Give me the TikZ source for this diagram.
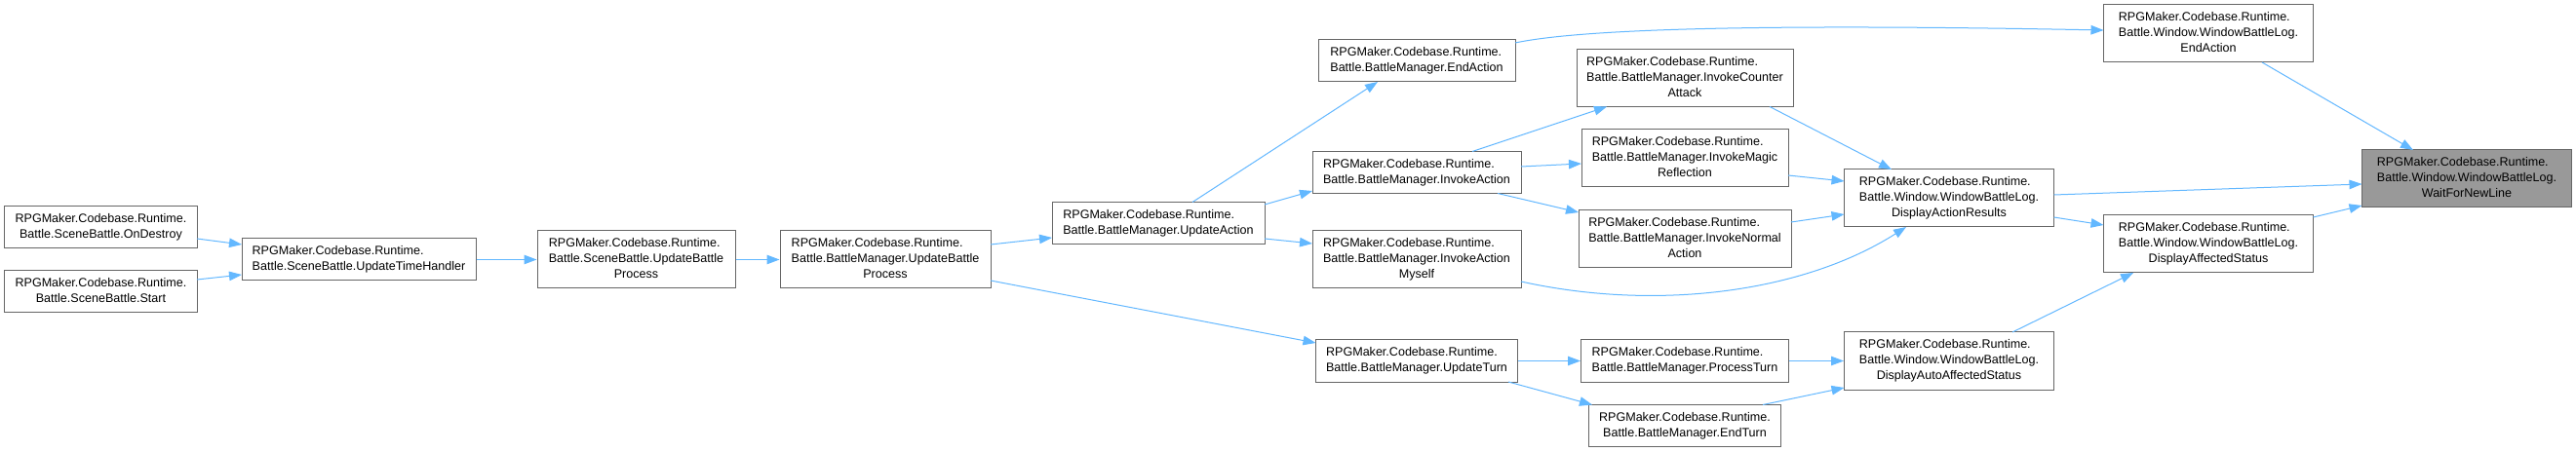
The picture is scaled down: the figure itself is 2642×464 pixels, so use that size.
\documentclass[tikz,border=0pt]{standalone}
\usepackage{fontspec}
\setmainfont{Liberation Sans}
\usetikzlibrary{arrows.meta,calc}
\definecolor{edgec}{HTML}{63B8FF}
\definecolor{boxc}{HTML}{666666}
\definecolor{rootc}{HTML}{999999}
\newcommand{\twol}[2]{\begin{tabular}{@{}l@{}}#1\\\multicolumn{1}{@{}c@{}}{#2}\end{tabular}}
\newcommand{\threel}[3]{\begin{tabular}{@{}l@{}}#1\\#2\\\multicolumn{1}{@{}c@{}}{#3}\end{tabular}}
\newcommand{\rpg}{RPGMaker.Codebase.Runtime.}
\begin{document}
\begin{tikzpicture}[x=1bp,y=-1bp,
  box/.style={draw=boxc, fill=white, line width=1bp, inner sep=0pt, minimum height=43bp, font=\fontsize{12.6}{16}\selectfont},
  boxiii/.style={box, minimum height=59bp},
  rootbox/.style={boxiii, fill=rootc},
  edge/.style={draw=edgec, line width=1bp, -{Triangle[length=13bp,width=9.5bp]}}]
\fill[white] (0,0) rectangle (2642,464);
\useasboundingbox (0,0) rectangle (2642,464);

\node[box, minimum width=197bp] (od) at (103.5,233) {\twol{\rpg}{Battle.SceneBattle.OnDestroy}};
\node[box, minimum width=197bp] (st) at (103.5,299.5) {\twol{\rpg}{Battle.SceneBattle.Start}};
\node[box, minimum width=240bp] (uth) at (368,266.5) {\twol{\rpg}{Battle.SceneBattle.UpdateTimeHandler}};
\node[boxiii, minimum width=203bp] (sbp) at (652.5,266.5) {\threel{\rpg}{Battle.SceneBattle.UpdateBattle}{Process}};
\node[boxiii, minimum width=216bp] (bbp) at (908,266.5) {\threel{\rpg}{Battle.BattleManager.UpdateBattle}{Process}};
\node[box, minimum width=218bp] (ua) at (1188,229) {\twol{\rpg}{Battle.BattleManager.UpdateAction}};
\node[box, minimum width=202bp] (ea) at (1453,62.5) {\twol{\rpg}{Battle.BattleManager.EndAction}};
\node[box, minimum width=214bp] (ia) at (1453,177) {\twol{\rpg}{Battle.BattleManager.InvokeAction}};
\node[boxiii, minimum width=214bp] (iam) at (1453,266.5) {\threel{\rpg}{Battle.BattleManager.InvokeAction}{Myself}};
\node[box, minimum width=207bp] (ut) at (1453,370.5) {\twol{\rpg}{Battle.BattleManager.UpdateTurn}};
\node[boxiii, minimum width=222bp] (ca) at (1728,80) {\threel{\rpg}{Battle.BattleManager.InvokeCounter}{Attack}};
\node[boxiii, minimum width=212bp] (mr) at (1728,162.5) {\threel{\rpg}{Battle.BattleManager.InvokeMagic}{Reflection}};
\node[boxiii, minimum width=218bp] (na) at (1728,245.5) {\threel{\rpg}{Battle.BattleManager.InvokeNormal}{Action}};
\node[box, minimum width=213bp] (pt) at (1728,370.5) {\twol{\rpg}{Battle.BattleManager.ProcessTurn}};
\node[box, minimum width=197bp] (et) at (1728,437) {\twol{\rpg}{Battle.BattleManager.EndTurn}};
\node[boxiii, minimum width=215bp] (dar) at (1999,203.5) {\threel{\rpg}{Battle.Window.WindowBattleLog.}{DisplayActionResults}};
\node[boxiii, minimum width=215bp] (daas) at (1999,370.5) {\threel{\rpg}{Battle.Window.WindowBattleLog.}{DisplayAutoAffectedStatus}};
\node[boxiii, minimum width=215bp] (wea) at (2265,34.5) {\threel{\rpg}{Battle.Window.WindowBattleLog.}{EndAction}};
\node[boxiii, minimum width=215bp] (das) at (2265,250.5) {\threel{\rpg}{Battle.Window.WindowBattleLog.}{DisplayAffectedStatus}};
\node[rootbox, minimum width=215bp] (wf) at (2530,183.5) {\threel{\rpg}{Battle.Window.WindowBattleLog.}{WaitForNewLine}};

\draw[edge] ($(od)+(98.5,12)$) -- ($(uth)+(-120,-15.5)$);
\draw[edge] ($(st)+(98.5,-12.5)$) -- ($(uth)+(-120,15.5)$);
\draw[edge] (uth.east) -- (sbp.west);
\draw[edge] (sbp.east) -- (bbp.west);
\draw[edge] ($(bbp)+(108,-15.5)$) -- ($(ua)+(-109,15)$);
\draw[edge] ($(bbp)+(108,21.5)$) -- ($(ut)+(-103.5,-18.5)$);
\draw[edge] ($(ua)+(35,-21.5)$) -- ($(ea)+(-40,21.5)$);
\draw[edge] ($(ua)+(109,-19)$) -- ($(ia)+(-107,19)$);
\draw[edge] ($(ua)+(109,16)$) -- ($(iam)+(-107,-16.5)$);
\draw[edge] ($(ea)+(101,-18.5)$) .. controls (1620,30) and (1800,24) .. ($(wea)+(-107.5,-3.5)$);
\draw[edge] ($(ia)+(57,-21.5)$) -- ($(ca)+(-80,29.5)$);
\draw[edge] ($(ia)+(107,-6)$) -- ($(mr)+(-106,5.5)$);
\draw[edge] ($(ia)+(83,21.5)$) -- ($(na)+(-109,-27.5)$);
\draw[edge] ($(iam)+(107,22.5)$) .. controls (1700,320) and (1850,300) .. ($(dar)+(-44,29.5)$);
\draw[edge] ($(ca)+(87,29.5)$) -- ($(dar)+(-59,-29.5)$);
\draw[edge] ($(mr)+(106,17.5)$) -- ($(dar)+(-107.5,-17.5)$);
\draw[edge] ($(na)+(109,-17.5)$) -- ($(dar)+(-107.5,16.5)$);
\draw[edge] ($(dar)+(107.5,-3.5)$) -- ($(wf)+(-107.5,5.5)$);
\draw[edge] ($(dar)+(107.5,19.5)$) -- ($(das)+(-107.5,-19.5)$);
\draw[edge] (ut.east) -- (pt.west);
\draw[edge] ($(ut)+(94,21.5)$) -- ($(et)+(-95,-21.5)$);
\draw[edge] (pt.east) -- (daas.west);
\draw[edge] ($(et)+(80,-21.5)$) -- ($(daas)+(-107.5,27.5)$);
\draw[edge] ($(daas)+(65,-29.5)$) -- ($(das)+(-77,29.5)$);
\draw[edge] ($(das)+(107.5,-27.5)$) -- ($(wf)+(-107.5,27.5)$);
\draw[edge] ($(wea)+(55,29.5)$) -- ($(wf)+(-55,-29.5)$);
\end{tikzpicture}
\end{document}
